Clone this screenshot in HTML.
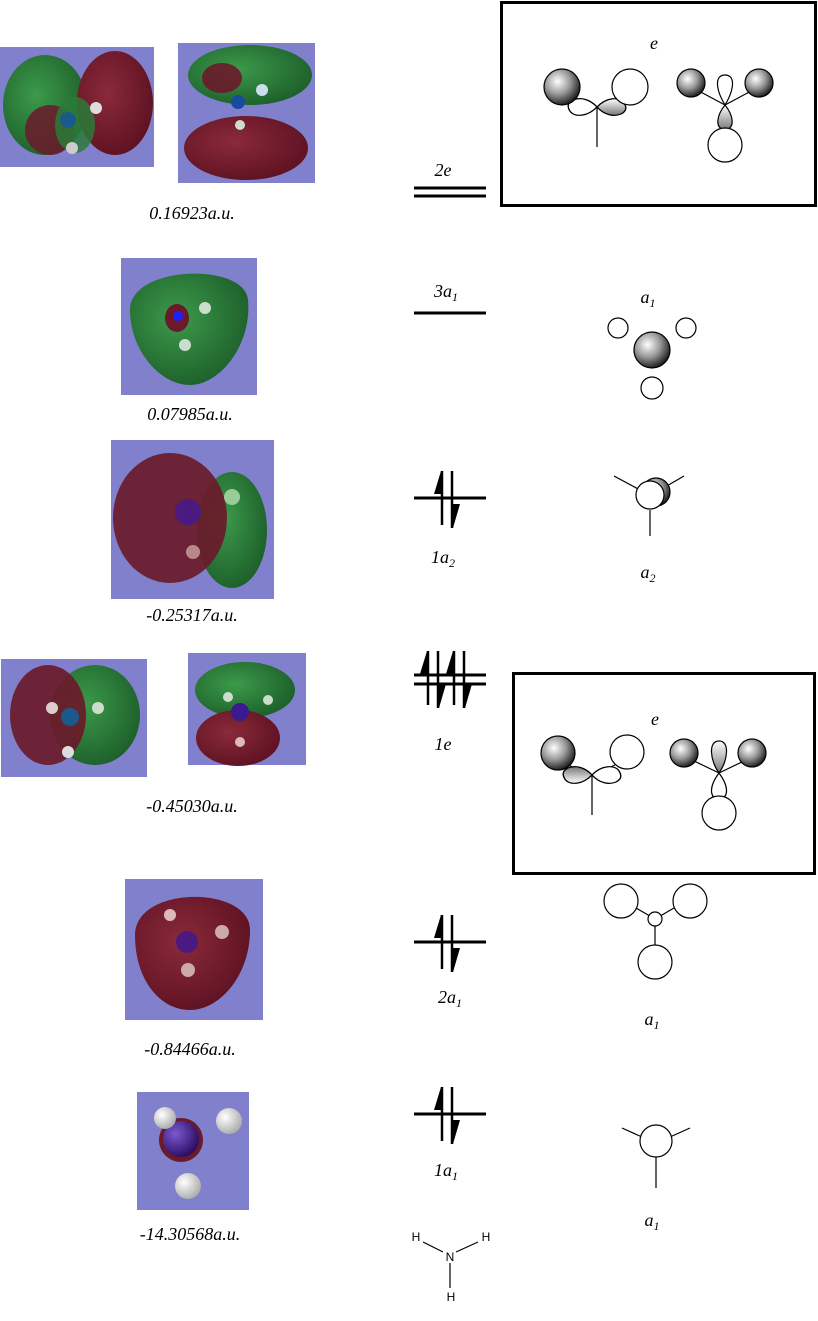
<!DOCTYPE html>
<html><head><meta charset="utf-8"><style>
html,body{margin:0;padding:0;background:#fff;}
svg{display:block;}
text{font-family:"Liberation Serif",serif;font-style:italic;font-size:18px;}
.h{font-family:"Liberation Sans",sans-serif;font-style:normal;font-size:12px;}
</style></head><body>
<svg width="818" height="1321" viewBox="0 0 818 1321" xmlns="http://www.w3.org/2000/svg">
<defs>
<radialGradient id="sp" cx="0.38" cy="0.35" r="0.7">
<stop offset="0" stop-color="#fff"/><stop offset="0.5" stop-color="#999"/><stop offset="1" stop-color="#111"/></radialGradient>
<linearGradient id="lb" x1="0" y1="0" x2="0" y2="1"><stop offset="0" stop-color="#fff"/><stop offset="1" stop-color="#777"/></linearGradient>
<radialGradient id="gr" cx="0.4" cy="0.4" r="0.7"><stop offset="0" stop-color="#3c9a4a"/><stop offset="1" stop-color="#1a5a28"/></radialGradient>
<radialGradient id="rd" cx="0.4" cy="0.4" r="0.7"><stop offset="0" stop-color="#8a2a3a"/><stop offset="1" stop-color="#5a1020"/></radialGradient>
<radialGradient id="at" cx="0.35" cy="0.35" r="0.7"><stop offset="0" stop-color="#7a5ad0"/><stop offset="1" stop-color="#2a0a60"/></radialGradient>
<radialGradient id="hw" cx="0.35" cy="0.35" r="0.7"><stop offset="0" stop-color="#fff"/><stop offset="1" stop-color="#aaa"/></radialGradient>
<path id="lobe" d="M0,0 C8,-10 18,-10 22,-5 C25,0 25,4 20,7 C14,10 6,8 0,0 Z"/>
</defs>

<g>
<rect x="0" y="47" width="154" height="120" fill="#8080cc"/>
<ellipse cx="45" cy="105" rx="42" ry="50" fill="url(#gr)"/>
<ellipse cx="115" cy="103" rx="38" ry="52" fill="url(#rd)"/>
<ellipse cx="50" cy="130" rx="25" ry="25" fill="#6a1a2a" opacity="0.85"/>
<ellipse cx="75" cy="125" rx="20" ry="28" fill="#2a7a38" opacity="0.85"/>
<circle cx="68" cy="120" r="8" fill="#1a5a8a"/><circle cx="96" cy="108" r="6" fill="#ddd"/><circle cx="72" cy="148" r="6" fill="#ccc"/>
</g>
<g>
<rect x="178" y="43" width="137" height="140" fill="#8080cc"/>
<ellipse cx="250" cy="75" rx="62" ry="30" fill="url(#gr)"/>
<ellipse cx="246" cy="148" rx="62" ry="32" fill="url(#rd)"/>
<ellipse cx="222" cy="78" rx="20" ry="15" fill="#6a1a2a" opacity="0.9"/>
<circle cx="238" cy="102" r="7" fill="#1a4aa0"/><circle cx="262" cy="90" r="6" fill="#cde"/><circle cx="240" cy="125" r="5" fill="#cdc"/>
</g>
<g>
<rect x="121" y="258" width="136" height="137" fill="#8080cc"/>
<path d="M130,310 C130,265 245,262 248,300 C252,345 220,385 190,385 C160,385 130,350 130,310 Z" fill="url(#gr)"/>
<ellipse cx="177" cy="318" rx="12" ry="14" fill="#6a1a2a"/>
<circle cx="178" cy="316" r="5" fill="#2020ff"/><circle cx="205" cy="308" r="6" fill="#cdc"/><circle cx="185" cy="345" r="6" fill="#cdc"/>
</g>
<g>
<rect x="111" y="440" width="163" height="159" fill="#8080cc"/>
<ellipse cx="232" cy="530" rx="35" ry="58" fill="url(#gr)"/>
<ellipse cx="170" cy="518" rx="57" ry="65" fill="#6a1a2a" opacity="0.92"/>
<circle cx="188" cy="512" r="13" fill="#4a1a80"/><circle cx="232" cy="497" r="8" fill="#9c9"/><circle cx="193" cy="552" r="7" fill="#b88"/>
</g>
<g>
<rect x="1" y="659" width="146" height="118" fill="#8080cc"/>
<ellipse cx="95" cy="715" rx="45" ry="50" fill="url(#gr)"/>
<ellipse cx="48" cy="715" rx="38" ry="50" fill="#6a1a2a" opacity="0.92"/>
<circle cx="70" cy="717" r="9" fill="#1a5a8a"/><circle cx="52" cy="708" r="6" fill="#dcc"/><circle cx="98" cy="708" r="6" fill="#cdc"/><circle cx="68" cy="752" r="6" fill="#ddd"/>
</g>
<g>
<rect x="188" y="653" width="118" height="112" fill="#8080cc"/>
<ellipse cx="245" cy="690" rx="50" ry="28" fill="url(#gr)"/>
<ellipse cx="238" cy="738" rx="42" ry="28" fill="url(#rd)"/>
<circle cx="240" cy="712" r="9" fill="#3a1a90"/><circle cx="228" cy="697" r="5" fill="#cdc"/><circle cx="268" cy="700" r="5" fill="#cdc"/><circle cx="240" cy="742" r="5" fill="#dbb"/>
</g>
<g>
<rect x="125" y="879" width="138" height="141" fill="#8080cc"/>
<path d="M135,935 C135,885 250,885 250,930 C250,975 220,1010 190,1010 C160,1010 135,980 135,935 Z" fill="url(#rd)"/>
<circle cx="187" cy="942" r="11" fill="#4a1a80"/><circle cx="222" cy="932" r="7" fill="#caa"/><circle cx="188" cy="970" r="7" fill="#caa"/><circle cx="170" cy="915" r="6" fill="#dbb"/>
</g>
<g>
<rect x="137" y="1092" width="112" height="118" fill="#8080cc"/>
<circle cx="181" cy="1140" r="22" fill="#6a1a2a"/>
<circle cx="181" cy="1139" r="18" fill="url(#at)"/>
<circle cx="229" cy="1121" r="13" fill="url(#hw)"/><circle cx="165" cy="1118" r="11" fill="url(#hw)"/><circle cx="188" cy="1186" r="13" fill="url(#hw)"/>
</g>

<g text-anchor="middle">
<text x="192" y="219">0.16923a.u.</text>
<text x="190" y="420">0.07985a.u.</text>
<text x="192" y="621">-0.25317a.u.</text>
<text x="192" y="812">-0.45030a.u.</text>
<text x="190" y="1055">-0.84466a.u.</text>
<text x="190" y="1240">-14.30568a.u.</text>
</g>

<g stroke="#000" stroke-width="3">
<line x1="414" y1="188" x2="486" y2="188"/><line x1="414" y1="196" x2="486" y2="196"/>
<line x1="414" y1="313" x2="486" y2="313"/>
<line x1="414" y1="498" x2="486" y2="498"/>
<line x1="414" y1="675" x2="486" y2="675"/><line x1="414" y1="684" x2="486" y2="684"/>
<line x1="414" y1="942" x2="486" y2="942"/>
<line x1="414" y1="1114" x2="486" y2="1114"/>
</g>
<g id="pair" stroke="#000" stroke-width="2.5" fill="#000">
<line x1="442" y1="471" x2="442" y2="525"/><path d="M441,471 L441,494 L434,494 Z" stroke="none"/>
<line x1="452" y1="471" x2="452" y2="528"/><path d="M453,528 L453,504 L460,504 Z" stroke="none"/>
</g>
<use href="#pair" transform="translate(-14,180)"/>
<use href="#pair" transform="translate(12,180)"/>
<use href="#pair" transform="translate(0,444)"/>
<use href="#pair" transform="translate(0,616)"/>

<g text-anchor="middle">
<text x="443" y="176">2e</text>
<text x="446" y="297">3a<tspan font-size="12" dy="4">1</tspan></text>
<text x="443" y="563">1a<tspan font-size="12" dy="4">2</tspan></text>
<text x="443" y="750">1e</text>
<text x="450" y="1003">2a<tspan font-size="12" dy="4">1</tspan></text>
<text x="446" y="1176">1a<tspan font-size="12" dy="4">1</tspan></text>
<text x="648" y="303">a<tspan font-size="12" dy="4">1</tspan></text>
<text x="648" y="578">a<tspan font-size="12" dy="4">2</tspan></text>
<text x="652" y="1025">a<tspan font-size="12" dy="4">1</tspan></text>
<text x="652" y="1226">a<tspan font-size="12" dy="4">1</tspan></text>
<text x="654" y="49">e</text>
<text x="655" y="725">e</text>
</g>

<rect x="501.5" y="2.5" width="314" height="203" fill="none" stroke="#000" stroke-width="3"/>
<rect x="513.5" y="673.5" width="301" height="200" fill="none" stroke="#000" stroke-width="3"/>

<g stroke="#000" stroke-width="1.2" fill="none">
<line x1="597" y1="107" x2="597" y2="147"/>
<line x1="597" y1="107" x2="573" y2="97"/><line x1="597" y1="107" x2="620" y2="97"/>
<use href="#lobe" transform="translate(597,107) rotate(180) scale(1.2,1.0)" fill="#fff"/>
<use href="#lobe" transform="translate(597,107) scale(1.2,1.0)" fill="url(#lb)"/>
<circle cx="562" cy="87" r="18" fill="url(#sp)"/>
<circle cx="630" cy="87" r="18" fill="#fff"/>
<line x1="725" y1="105" x2="697" y2="90"/><line x1="725" y1="105" x2="753" y2="90"/>
<path d="M725,105 C716,90 714,75 725,75 C736,75 734,90 725,105 Z" fill="#fff"/>
<path d="M725,105 C717,115 714,128 725,130 C736,128 733,115 725,105 Z" fill="url(#lb)"/>
<circle cx="691" cy="83" r="14" fill="url(#sp)"/><circle cx="759" cy="83" r="14" fill="url(#sp)"/>
<circle cx="725" cy="145" r="17" fill="#fff"/>
<line x1="592" y1="775" x2="592" y2="815"/>
<line x1="592" y1="775" x2="568" y2="765"/><line x1="592" y1="775" x2="615" y2="765"/>
<use href="#lobe" transform="translate(592,775) rotate(180) scale(1.2,1.0)" fill="url(#lb)"/>
<use href="#lobe" transform="translate(592,775) scale(1.2,1.0)" fill="#fff"/>
<circle cx="558" cy="753" r="17" fill="url(#sp)"/>
<circle cx="627" cy="752" r="17" fill="#fff"/>
<line x1="719" y1="773" x2="692" y2="760"/><line x1="719" y1="773" x2="746" y2="760"/>
<path d="M719,773 C710,760 708,741 719,741 C730,741 728,760 719,773 Z" fill="url(#lb)"/>
<path d="M719,773 C710,785 708,797 719,800 C730,797 728,785 719,773 Z" fill="#fff"/>
<circle cx="684" cy="753" r="14" fill="url(#sp)"/><circle cx="752" cy="753" r="14" fill="url(#sp)"/>
<circle cx="719" cy="813" r="17" fill="#fff"/>
<circle cx="618" cy="328" r="10" fill="#fff"/><circle cx="686" cy="328" r="10" fill="#fff"/><circle cx="652" cy="388" r="11" fill="#fff"/>
<circle cx="652" cy="350" r="18" fill="url(#sp)"/>
<line x1="614" y1="476" x2="640" y2="490"/><line x1="684" y1="476" x2="660" y2="490"/><line x1="650" y1="510" x2="650" y2="536"/>
<circle cx="656" cy="492" r="14" fill="url(#sp)"/>
<circle cx="650" cy="495" r="14" fill="#fff"/>
<line x1="655" y1="919" x2="636" y2="908"/><line x1="655" y1="919" x2="674" y2="908"/><line x1="655" y1="919" x2="655" y2="945"/>
<circle cx="621" cy="901" r="17" fill="#fff"/><circle cx="690" cy="901" r="17" fill="#fff"/><circle cx="655" cy="962" r="17" fill="#fff"/>
<circle cx="655" cy="919" r="7" fill="#fff"/>
<line x1="622" y1="1128" x2="642" y2="1137"/><line x1="690" y1="1128" x2="670" y2="1137"/><line x1="656" y1="1157" x2="656" y2="1188"/>
<circle cx="656" cy="1141" r="16" fill="#fff"/>
<line x1="423" y1="1242" x2="443" y2="1252"/><line x1="478" y1="1242" x2="456" y2="1252"/><line x1="450" y1="1263" x2="450" y2="1288"/>
</g>
<g text-anchor="middle">
<text class="h" x="450" y="1261">N</text>
<text class="h" x="416" y="1241">H</text>
<text class="h" x="486" y="1241">H</text>
<text class="h" x="451" y="1301">H</text>
</g>
</svg>
</body></html>
